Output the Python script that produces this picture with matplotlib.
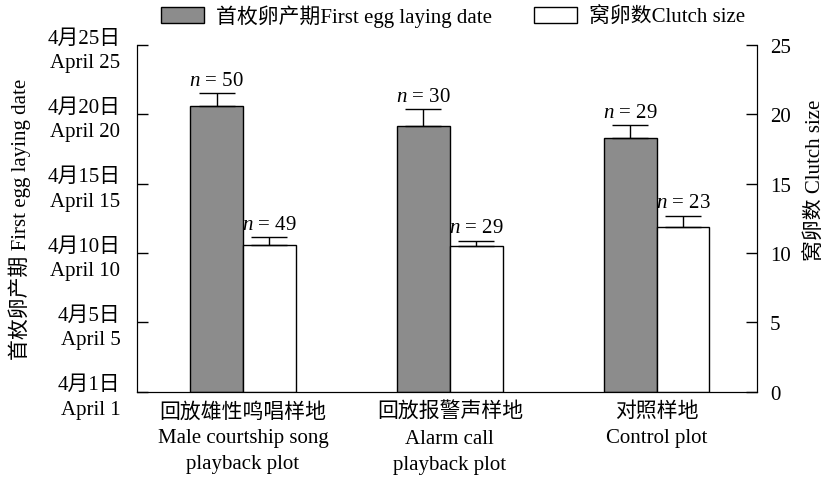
import matplotlib.pyplot as plt
from matplotlib.patches import Patch
import numpy as np

plt.rcParams['font.family'] = ['Liberation Serif', 'Noto Sans CJK SC']
plt.rcParams['mathtext.fontset'] = 'custom'
plt.rcParams['mathtext.it'] = 'Liberation Serif:italic'
plt.rcParams['mathtext.rm'] = 'Liberation Serif'

# Data
groups = ['回放雄性鸣唱样地\nMale courtship song\nplayback plot',
          '回放报警声样地\nAlarm call\nplayback plot',
          '对照样地\nControl plot']
laying_date = [20.6, 19.2, 18.3]      # on the left-axis day scale
laying_err = [0.95, 1.2, 0.95]
laying_n = [50, 30, 29]
clutch = [10.6, 10.5, 11.9]
clutch_err = [0.55, 0.4, 0.8]
clutch_n = [49, 29, 23]

left_ticks = [0, 5, 10, 15, 20, 25]
left_labels = ['4月1日\nApril 1', '4月5日\nApril 5', '4月10日\nApril 10',
               '4月15日\nApril 15', '4月20日\nApril 20', '4月25日\nApril 25']
right_ticks = [0, 5, 10, 15, 20, 25]

fs = 15
x = np.arange(len(groups))
w = 0.255

fig = plt.figure(figsize=(8.25, 4.85), dpi=100)
ax = fig.add_axes([0.166, 0.19, 0.752, 0.715])
ax2 = ax.twinx()

ekw = dict(ecolor='black', elinewidth=1.0, capthick=1.0)
ax.bar(x - w / 2, laying_date, w, color='#8c8c8c', edgecolor='black', linewidth=1.0,
       yerr=[np.zeros(3), laying_err], capsize=13, error_kw=ekw, zorder=2)
ax2.bar(x + w / 2, clutch, w, color='white', edgecolor='black', linewidth=1.0,
        yerr=[np.zeros(3), clutch_err], capsize=13, error_kw=ekw, zorder=2)

for i in range(3):
    ax.text(x[i] - w / 2, laying_date[i] + laying_err[i] + 0.6, f'$n$ = {laying_n[i]}',
            ha='center', va='baseline', fontsize=fs)
    ax2.text(x[i] + w / 2, clutch[i] + clutch_err[i] + 0.6, f'$n$ = {clutch_n[i]}',
             ha='center', va='baseline', fontsize=fs)

for a in (ax, ax2):
    a.set_ylim(0, 25)
    a.set_xlim(-0.513, 2.487)
    a.spines['top'].set_visible(False)
    a.tick_params(direction='in', length=8, width=1.0, labelsize=fs)

ax.set_yticks(left_ticks)
ax.set_yticklabels(left_labels, linespacing=1.38)
ax.tick_params(axis='y', pad=12)
ax2.set_yticks(right_ticks)
ax2.tick_params(axis='y', pad=9)

ax.set_xticks(x)
ax.set_xticklabels(groups, linespacing=1.5)
ax.tick_params(axis='x', length=0, pad=7)

ax.set_ylabel('首枚卵产期 First egg laying date', fontsize=fs)
ax.yaxis.set_label_coords(-0.171, 0.5)
ax2.set_ylabel('窝卵数 Clutch size', fontsize=fs)
ax2.yaxis.set_label_coords(1.078, 0.614)

handles = [Patch(facecolor='#8c8c8c', edgecolor='black', linewidth=1.0),
           Patch(facecolor='white', edgecolor='black', linewidth=1.0)]
fig.legend(handles, ['首枚卵产期First egg laying date', '窝卵数Clutch size'],
           loc='upper left', bbox_to_anchor=(0.172, 1.027), ncol=2, frameon=False,
           fontsize=fs, handlelength=2.1, handleheight=0.87, columnspacing=2.0,
           handletextpad=0.55)

fig.savefig('out.png', dpi=100)
